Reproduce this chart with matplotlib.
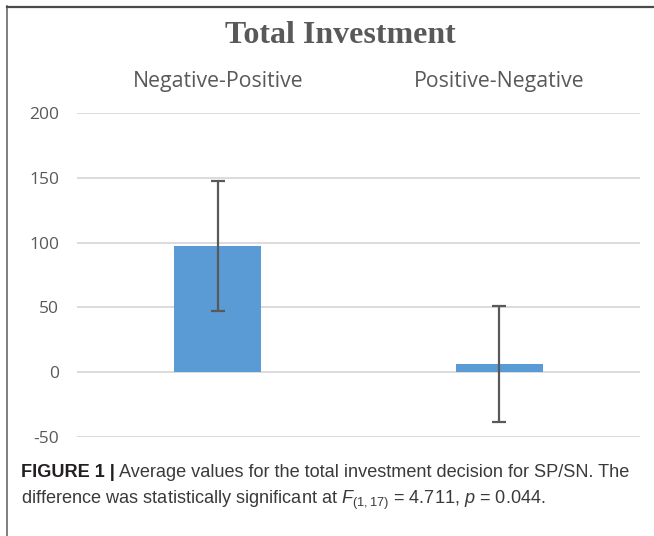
import matplotlib
matplotlib.use("Agg")
import matplotlib.pyplot as plt
from matplotlib.lines import Line2D

categories = ["Negative-Positive", "Positive-Negative"]
means = [97.5, 6.2]
errors = [50.0, 45.0]
yticks = [-50, 0, 50, 100, 150, 200]

W, H = 654, 536
plt.rcParams['mathtext.fontset'] = 'custom'
plt.rcParams['mathtext.rm'] = 'Liberation Sans'
plt.rcParams['mathtext.it'] = 'Liberation Sans:italic'
plt.rcParams['mathtext.bf'] = 'Liberation Sans:bold'

fig = plt.figure(figsize=(W / 100, H / 100), dpi=100)
fig.patch.set_facecolor('white')

def fx(px):
    return px / W

def fy(py):
    return 1 - py / H

ax_l, ax_r, ax_t, ax_b = 77, 640, 113, 437
ax = fig.add_axes([fx(ax_l), fy(ax_b), fx(ax_r) - fx(ax_l), fy(ax_t) - fy(ax_b)])

x = list(range(len(categories)))
ax.bar(x, means, width=0.31, color='#5B9BD5', zorder=2)
ax.errorbar(x, means, yerr=errors, fmt='none', ecolor='#595959', elinewidth=1.6,
            capsize=5, capthick=1.6, zorder=3, clip_on=False)

ax.set_xlim(-0.5, 1.5)
ax.set_ylim(-50, 200)
ax.set_yticks(yticks)
ax.set_yticklabels([str(v) for v in yticks], fontfamily='Open Sans', fontsize=12.5, color='#595959')
ax.yaxis.grid(True, color='#D9D9D9', linewidth=1.3, zorder=0)
ax.set_axisbelow(True)
for s in ax.spines.values():
    s.set_visible(False)
ax.tick_params(axis='y', length=0, pad=13)

ax.set_xticks(x)
ax.set_xticklabels(categories, fontfamily='Open Sans', fontsize=15.3, color='#595959')
ax.xaxis.tick_top()
ax.tick_params(axis='x', length=0, pad=15)

fig.text(fx(340.5), fy(43), "Total Investment", ha='center', va='baseline',
         fontfamily='Liberation Serif', fontweight='bold', fontsize=23, color='#595959')

# frame lines
fig.add_artist(Line2D([fx(7), fx(7)], [fy(6), 0], color='#6a6a6a', linewidth=1.2))
fig.add_artist(Line2D([fx(7), 1], [fy(6.5), fy(6.5)], color='#4a4a4a', linewidth=1.6))

# caption
cap_size = 13.1
y1, y2 = 477, 504
t1 = fig.text(fx(21), fy(y1), "FIGURE 1 |", ha='left', va='baseline',
              fontfamily='Liberation Sans', fontweight='bold', fontsize=cap_size, color='#231f20')
fig.canvas.draw()
r = fig.canvas.get_renderer()
bb = t1.get_window_extent(r)
fig.text(bb.x1 / W + fx(4), fy(y1),
         "Average values for the total investment decision for SP/SN. The",
         ha='left', va='baseline', fontfamily='Liberation Sans', fontsize=cap_size, color='#3a3a3a')
fig.text(fx(21), fy(y2),
         r"difference was statistically significant at $F_{(1,17)}$ = 4.711, $p$ = 0.044.",
         ha='left', va='baseline', fontfamily='Liberation Sans', fontsize=cap_size, color='#3a3a3a')

fig.savefig("out.png", dpi=100, facecolor='white')
